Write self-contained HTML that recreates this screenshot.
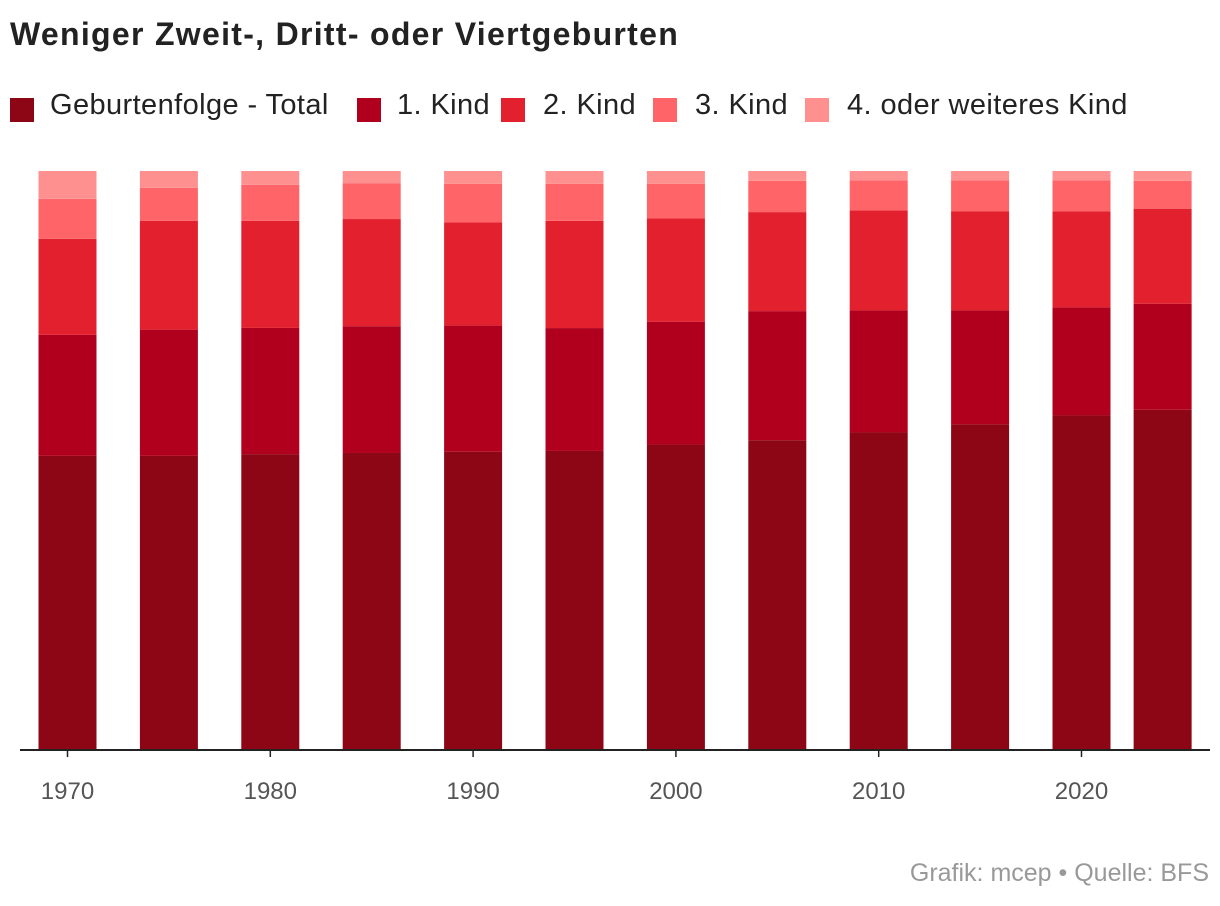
<!DOCTYPE html>
<html><head><meta charset="utf-8">
<style>
body{margin:0;width:1220px;height:906px;background:#fff;font-family:"Liberation Sans",sans-serif;position:relative;overflow:hidden}
.t{position:absolute;white-space:nowrap}
.sq{position:absolute;width:24px;height:24px;top:98px}
.lg{position:absolute;top:89px;font-size:29px;letter-spacing:0.4px;color:#222;white-space:nowrap}
</style></head><body>
<div class="t" style="left:10px;top:16px;font-size:32px;letter-spacing:1.3px;font-weight:bold;color:#222">Weniger Zweit-, Dritt- oder Viertgeburten</div>
<div>
<div class="sq" style="left:10px;background:#8c0615"></div><div class="lg" style="left:50px">Geburtenfolge - Total</div>
<div class="sq" style="left:357px;background:#b0001e"></div><div class="lg" style="left:397px">1. Kind</div>
<div class="sq" style="left:501px;background:#e3202e"></div><div class="lg" style="left:543px">2. Kind</div>
<div class="sq" style="left:653px;background:#ff6468"></div><div class="lg" style="left:695px">3. Kind</div>
<div class="sq" style="left:805px;background:#ff9090"></div><div class="lg" style="left:847px">4. oder weiteres Kind</div>
</div>
<svg id="chart" width="1220" height="906" style="position:absolute;left:0;top:0"></svg>
<div class="t" style="right:11px;top:859px;font-size:25px;color:#999">Grafik: mcep • Quelle: BFS</div>
<script>
const years=[1970,1975,1980,1985,1990,1995,2000,2005,2010,2015,2020,2024];
const total=[50.8,50.8,51.1,51.3,51.5,51.6,52.7,53.5,54.9,56.3,57.9,58.7];
const kind1=[20.9,21.8,21.8,21.9,21.8,21.2,21.2,22.3,21.1,19.7,18.7,18.3];
const kind2=[16.6,18.8,18.5,18.5,17.8,18.5,17.8,17.1,17.3,17.1,16.6,16.4];
const kind3=[6.9,5.7,6.2,6.2,6.7,6.4,6.0,5.4,5.2,5.4,5.4,4.8];
const kind4=[4.8,2.9,2.4,2.1,2.2,2.2,2.2,1.7,1.6,1.6,1.6,1.7];
const tickYears=[1970,1980,1990,2000,2010,2020];
const series=[total,kind1,kind2,kind3,kind4];
const names=['total','kind1','kind2','kind3','kind4'];
const colors=['#8c0615','#b0001e','#e3202e','#ff6468','#ff9090'];
const NS='http://www.w3.org/2000/svg';
const svg=document.getElementById('chart');
const x=y=>67.5+(y-1970)*20.28;
const top0=171,base=750,H=base-top0,bw=58;
years.forEach((yr,i)=>{
  const sum=series.reduce((a,s)=>a+s[i],0);
  let cur=base;
  series.forEach((s,k)=>{
    const h=s[i]/sum*H;
    const r=document.createElementNS(NS,'rect');
    r.setAttribute('x',x(yr)-bw/2);r.setAttribute('y',cur-h);
    r.setAttribute('width',bw);r.setAttribute('height',h);
    r.setAttribute('fill',colors[k]);
    
    
    svg.appendChild(r);cur-=h;
  });
});
const ax=document.createElementNS(NS,'line');
ax.setAttribute('x1',20);ax.setAttribute('x2',1210);ax.setAttribute('y1',base);ax.setAttribute('y2',base);
ax.setAttribute('stroke','#222');ax.setAttribute('stroke-width',2);


svg.appendChild(ax);
tickYears.forEach(yr=>{
  const l=document.createElementNS(NS,'line');
  l.setAttribute('x1',x(yr));l.setAttribute('x2',x(yr));l.setAttribute('y1',base);l.setAttribute('y2',base+7);
  l.setAttribute('stroke','#222');l.setAttribute('stroke-width',1.5);
  
  
  svg.appendChild(l);
  const t=document.createElementNS(NS,'text');
  t.setAttribute('x',x(yr));t.setAttribute('y',799);t.setAttribute('text-anchor','middle');
  t.setAttribute('font-size',24);t.setAttribute('fill','#555');t.setAttribute('font-family','Liberation Sans, sans-serif');
  t.textContent=yr;
  
  
  svg.appendChild(t);
});
</script>
</body></html>
